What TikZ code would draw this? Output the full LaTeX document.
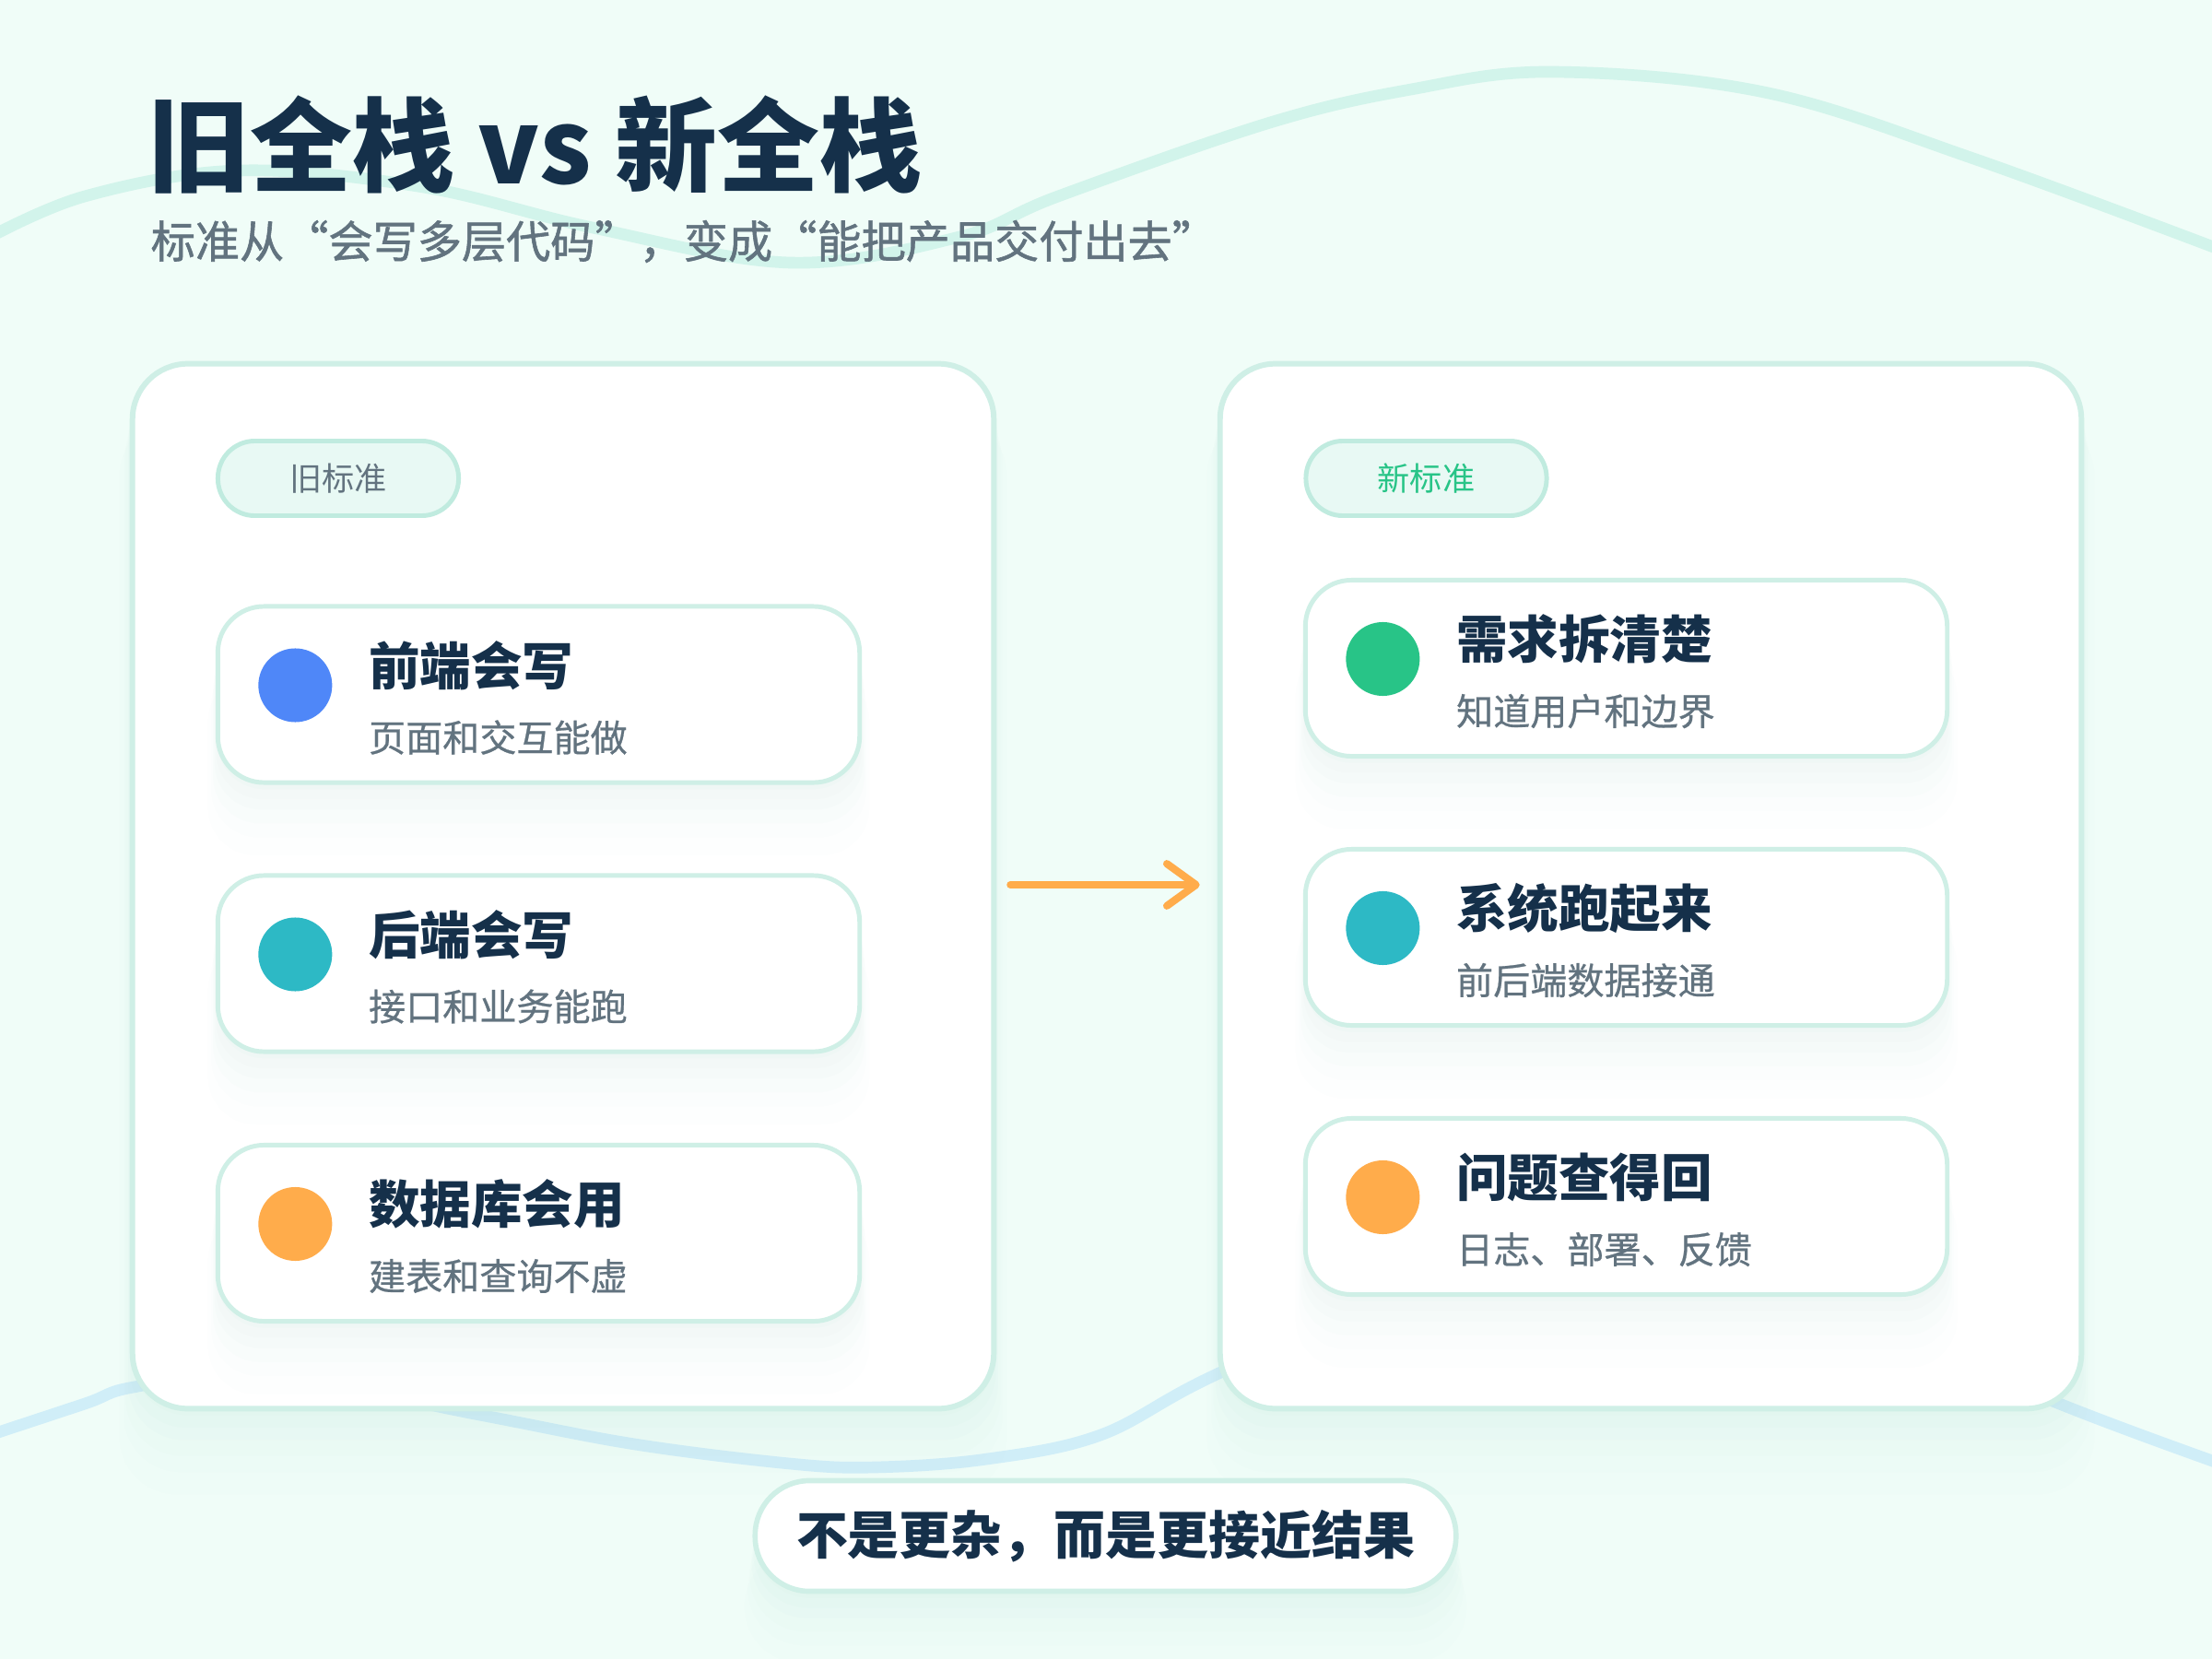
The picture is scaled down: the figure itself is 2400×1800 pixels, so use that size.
\documentclass[tikz,border=0pt]{standalone}
\usepackage{fontspec}
\setmainfont{Noto Sans CJK SC}
\newfontfamily\midfont{Noto Sans CJK SC}[FakeBold=0.6]
\newfontfamily\semifont{Noto Sans CJK SC}[FakeBold=1.2]
\usetikzlibrary{positioning,shadows,arrows.meta}

\definecolor{bgmint}{HTML}{F0FDF8}
\definecolor{ink}{HTML}{15304A}
\definecolor{mute}{HTML}{62737F}
\definecolor{rim}{HTML}{CFEFE6}
\definecolor{tagfill}{HTML}{E8F9F4}
\definecolor{tagrim}{HTML}{C0EBDF}
\definecolor{wavetop}{HTML}{D2F4EB}
\definecolor{wavelow}{HTML}{D0EEF8}
\definecolor{shade}{HTML}{A6DCCC}
\definecolor{cblue}{HTML}{4F87F8}
\definecolor{cteal}{HTML}{2DB9C5}
\definecolor{cgreen}{HTML}{28C487}
\definecolor{corange}{HTML}{FFAC4B}

\tikzset{
  glow/.style={
    general shadow={fill=shade,opacity=.04,shadow yshift=-2pt},
    general shadow={fill=shade,opacity=.03,shadow yshift=-5pt,shadow scale=1.005},
    general shadow={fill=shade,opacity=.03,shadow yshift=-8pt,shadow scale=1.01},
    general shadow={fill=shade,opacity=.025,shadow yshift=-12pt,shadow scale=1.015},
    general shadow={fill=shade,opacity=.02,shadow yshift=-16pt,shadow scale=1.02},
    general shadow={fill=shade,opacity=.015,shadow yshift=-21pt,shadow scale=1.03}},
  panel/.style={draw=rim,line width=1.7pt,fill=white,rounded corners=0.6cm,outer sep=0pt,
    minimum width=9.34cm,minimum height=11.33cm,glow},
  card/.style={draw=rim,line width=1.4pt,fill=white,rounded corners=0.5cm,outer sep=0pt,
    minimum width=6.96cm,minimum height=1.91cm,glow},
  tag/.style={draw=tagrim,line width=1.4pt,fill=tagfill,rounded corners=0.4cm,
    minimum width=2.61cm,minimum height=0.81cm,font=\fontsize{10}{12}\selectfont},
  dot/.style={circle,minimum size=0.8cm,inner sep=0pt},
  head/.style={anchor=west,inner sep=0pt,text=ink,font=\bfseries\fontsize{15.8}{18}\selectfont},
  note/.style={anchor=west,inner sep=0pt,text=mute,font=\midfont\fontsize{11.4}{13}\selectfont},
  wave/.style={line width=3.6pt,line cap=round}
}

\begin{document}
\begin{tikzpicture}[x=0.01cm,y=-0.01cm]
  \useasboundingbox (0,0) rectangle (2400,1800);
  \fill[bgmint] (0,0) rectangle (2400,1800);

  % background waves
  \draw[wave,wavetop] plot[smooth,tension=0.6] coordinates {(-20,262) (92,213) (260,185) (459,203)
    (643,247) (858,285) (1041,257) (1148,213) (1378,133) (1531,97) (1684,78) (1914,100)
    (2144,173) (2420,275)};
  \draw[wave,wavelow] plot[smooth,tension=0.6] coordinates {(-20,1560) (92,1523) (145,1505)
    (280,1490) (520,1535) (689,1567) (857,1588) (949,1592) (1071,1583) (1194,1557) (1316,1493)
    (1550,1390) (1780,1360) (2000,1420) (2227,1520) (2420,1592)};

  \node[anchor=west,inner sep=0pt,text=ink,font=\bfseries\fontsize{31.5}{36}\selectfont]
    (title) at (160,157) {旧全栈 vs 新全栈};
  \node[anchor=west,inner sep=0pt,text=mute,font=\semifont\fontsize{13.7}{16}\selectfont]
    (subtitle) at (163,262) {标准从“会写多层代码”，变成“能把产品交付出去”};

  \node[panel] (oldp) at (611,961.5) {};
  \node[panel] (newp) at (1791,961.5) {};

  \node[tag,text=mute] (oldtag) at (367,519) {旧标准};
  \node[tag,text=cgreen] (newtag) at (1547.5,519) {新标准};

  % old standard
  \node[card] (o1) at (584.5,753.5) {};
  \node[dot,fill=cblue] (od1) at ([xshift=0.84cm,yshift=0.1cm]o1.west) {};
  \node[head] (oh1) at ([xshift=0.79cm,yshift=0.215cm]od1.center) {前端会写};
  \node[note] (on1) at ([xshift=0.79cm,yshift=-0.565cm]od1.center) {页面和交互能做};

  \node[card] (o2) at (584.5,1045.5) {};
  \node[dot,fill=cteal] (od2) at ([xshift=0.84cm,yshift=0.1cm]o2.west) {};
  \node[head] (oh2) at ([xshift=0.79cm,yshift=0.215cm]od2.center) {后端会写};
  \node[note] (on2) at ([xshift=0.79cm,yshift=-0.565cm]od2.center) {接口和业务能跑};

  \node[card] (o3) at (584.5,1338) {};
  \node[dot,fill=corange] (od3) at ([xshift=0.84cm,yshift=0.1cm]o3.west) {};
  \node[head] (oh3) at ([xshift=0.79cm,yshift=0.215cm]od3.center) {数据库会用};
  \node[note] (on3) at ([xshift=0.79cm,yshift=-0.565cm]od3.center) {建表和查询不虚};

  % new standard
  \node[card] (n1) at (1764.5,725) {};
  \node[dot,fill=cgreen] (nd1) at ([xshift=0.84cm,yshift=0.1cm]n1.west) {};
  \node[head] (nh1) at ([xshift=0.79cm,yshift=0.215cm]nd1.center) {需求拆清楚};
  \node[note] (nn1) at ([xshift=0.79cm,yshift=-0.565cm]nd1.center) {知道用户和边界};

  \node[card] (n2) at (1764.5,1017) {};
  \node[dot,fill=cteal] (nd2) at ([xshift=0.84cm,yshift=0.1cm]n2.west) {};
  \node[head] (nh2) at ([xshift=0.79cm,yshift=0.215cm]nd2.center) {系统跑起来};
  \node[note] (nn2) at ([xshift=0.79cm,yshift=-0.565cm]nd2.center) {前后端数据接通};

  \node[card] (n3) at (1764.5,1309) {};
  \node[dot,fill=corange] (nd3) at ([xshift=0.84cm,yshift=0.1cm]n3.west) {};
  \node[head] (nh3) at ([xshift=0.79cm,yshift=0.215cm]nd3.center) {问题查得回};
  \node[note] (nn3) at ([xshift=0.79cm,yshift=-0.565cm]nd3.center) {日志、部署、反馈};

  \draw[corange,line width=2.3pt,line cap=round,-{Straight Barb[length=9pt,width=13pt,round]}]
    ([xshift=0.18cm,yshift=0.015cm]oldp.east) -- ([xshift=-0.22cm,yshift=0.015cm]newp.west);

  \node[draw=rim,line width=1.6pt,fill=white,rounded corners=0.59cm,minimum width=7.6cm,
    minimum height=1.2cm,glow,text=ink,font=\bfseries\fontsize{15.9}{18}\selectfont]
    (motto) at (1199.5,1666.5) {不是更杂，而是更接近结果};
\end{tikzpicture}
\end{document}
